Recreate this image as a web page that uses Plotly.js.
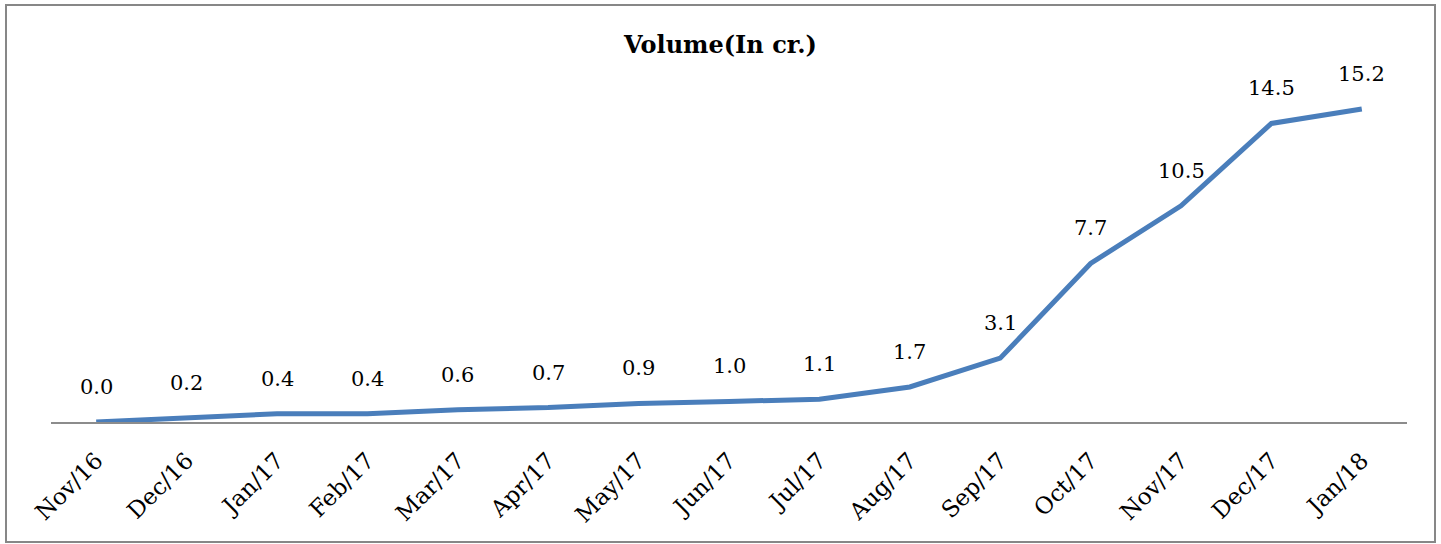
<!DOCTYPE html>
<html>
<head>
<meta charset="utf-8">
<script src="https://cdn.plot.ly/plotly-3.0.1.min.js"></script>
<style>
  html, body { margin: 0; padding: 0; background: #fff; }
  #wrap { position: relative; width: 1441px; height: 544px; }
  #chart { position: absolute; left: 0; top: 0; width: 1441px; height: 544px; }
  #frame { position: absolute; left: 5px; top: 4px; width: 1427px; height: 535px;
           border: 2px solid #878787; pointer-events: none; }
</style>
</head>
<body>
<div id="wrap">
  <div id="chart"></div>
  <div id="frame"></div>
</div>
<script>
const months = ["Nov/16","Dec/16","Jan/17","Feb/17","Mar/17","Apr/17","May/17","Jun/17","Jul/17","Aug/17","Sep/17","Oct/17","Nov/17","Dec/17","Jan/18"];
const volume = [0.0, 0.2, 0.4, 0.4, 0.6, 0.7, 0.9, 1.0, 1.1, 1.7, 3.1, 7.7, 10.5, 14.5, 15.2];
const chartTitle = "Volume(In cr.)";

const serif = "DejaVu Serif, Liberation Serif, serif";

const trace = {
  x: months,
  y: volume,
  type: "scatter",
  mode: "lines",
  line: { color: "#4a7ebb", width: 5 },
  hoverinfo: "skip"
};

const labels = months.map((m, i) => ({
  x: m, y: volume[i],
  xref: "x", yref: "y",
  text: volume[i].toFixed(1),
  showarrow: false,
  yshift: 35,
  font: { family: serif, size: 21, color: "#000" }
}));

const layout = {
  width: 1441, height: 544,
  margin: { l: 51, r: 34, t: 72, b: 122 },
  paper_bgcolor: "#fff", plot_bgcolor: "#fff",
  showlegend: false,
  title: {
    text: "<b>" + chartTitle + "</b>",
    font: { family: serif, size: 24, color: "#000" },
    x: 0.5, xanchor: "center",
    y: 1 - 45/544, yanchor: "middle"
  },
  xaxis: {
    type: "category",
    range: [-0.5, 14.5],
    showgrid: false, zeroline: false,
    showline: true, linecolor: "#8c8c8c", linewidth: 2,
    ticks: "outside", ticklen: 14, tickcolor: "rgba(0,0,0,0)",
    tickangle: -45,
    tickfont: { family: serif, size: 23, color: "#000" }
  },
  yaxis: {
    range: [0, 17],
    showgrid: false, zeroline: false, showline: false,
    showticklabels: false, ticks: ""
  },
  annotations: labels
};

Plotly.newPlot("chart", [trace], layout, { staticPlot: true, displayModeBar: false });
</script>
</body>
</html>
